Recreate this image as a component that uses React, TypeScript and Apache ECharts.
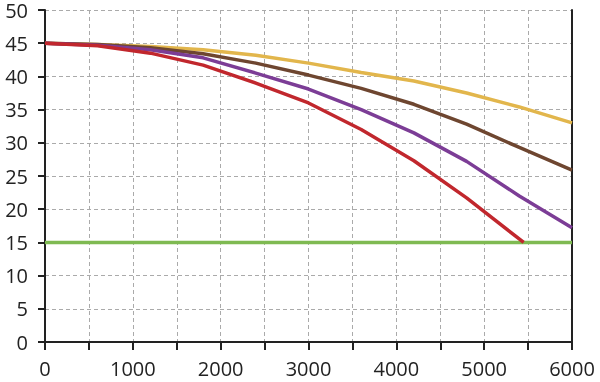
import React, { useEffect, useRef } from "react";
import * as echarts from "echarts";

const xValues = [0, 600, 1200, 1800, 2400, 3000, 3600, 4200, 4800, 5400, 6000];
const yellowValues = [45, 44.8, 44.5, 44.0, 43.2, 42.0, 40.6, 39.3, 37.5, 35.4, 33.0];
const brownValues = [45, 44.8, 44.3, 43.4, 42.0, 40.2, 38.2, 35.8, 32.8, 29.3, 25.9];
const purpleValues = [45, 44.7, 44.0, 42.8, 40.5, 38.1, 35.0, 31.5, 27.2, 22.0, 17.2];
const redX = [0, 600, 1200, 1800, 2400, 3000, 3600, 4200, 4800, 5450];
const redValues = [45, 44.6, 43.5, 41.7, 39.0, 36.0, 32.0, 27.3, 21.7, 15.0];
const greenX = [0, 6000];
const greenValues = [15, 15];

const pairs = (xs: number[], ys: number[]) => xs.map((x, i) => [x, ys[i]]);

export default function App() {
  const ref = useRef<HTMLDivElement>(null);
  useEffect(() => {
    if (!ref.current) return;
    const chart = echarts.init(ref.current, null, { renderer: "svg" });
    const font = "'Open Sans', sans-serif";
    const dashed = { type: [4, 3] as any, color: "#aaaaaa", width: 1 };
    const mk = (name: string, data: number[][], color: string, z = 2) => ({
      name,
      type: "line",
      data,
      symbol: "none",
      z,
      lineStyle: { color, width: 3.5 },
    });
    chart.setOption({
      animation: false,
      grid: { left: 45, right: 28, top: 9, bottom: 40, containLabel: false },
      xAxis: {
        type: "value",
        min: 0,
        max: 6000,
        interval: 500,
        axisLine: { show: true, lineStyle: { color: "#222", width: 2 } },
        axisTick: { show: true, length: 8, lineStyle: { color: "#222", width: 2 } },
        axisLabel: {
          color: "#222",
          fontFamily: font,
          fontSize: 20,
          lineHeight: 18,
          margin: 17,
          formatter: (v: number) => (v % 1000 === 0 ? String(v) : ""),
        },
        splitLine: { show: true, lineStyle: dashed },
      },
      yAxis: [
        {
          type: "value",
          min: 0,
          max: 50,
          interval: 5,
          axisLine: { show: true, lineStyle: { color: "#222", width: 2 } },
          axisTick: { show: true, length: 7, lineStyle: { color: "#222", width: 2 } },
          axisLabel: { color: "#222", fontFamily: font, fontSize: 20, lineHeight: 16, margin: 17 },
          splitLine: { show: true, lineStyle: dashed },
        },
        {
          type: "value",
          min: 0,
          max: 50,
          interval: 5,
          position: "right",
          axisLine: { show: true, lineStyle: { color: "#222", width: 2 } },
          axisTick: { show: false },
          axisLabel: { show: false },
          splitLine: { show: false },
        },
      ],
      series: [
        mk("green", pairs(greenX, greenValues), "#7fba52", 2),
        mk("yellow", pairs(xValues, yellowValues), "#e2b64c", 3),
        mk("brown", pairs(xValues, brownValues), "#6e4630", 4),
        mk("purple", pairs(xValues, purpleValues), "#7c3d96", 5),
        mk("red", pairs(redX, redValues), "#c1272d", 6),
      ],
    });
    return () => chart.dispose();
  }, []);
  return (
    <div
      ref={ref}
      style={{ position: "fixed", left: 0, top: 0, width: 600, height: 382 }}
    />
  );
}
